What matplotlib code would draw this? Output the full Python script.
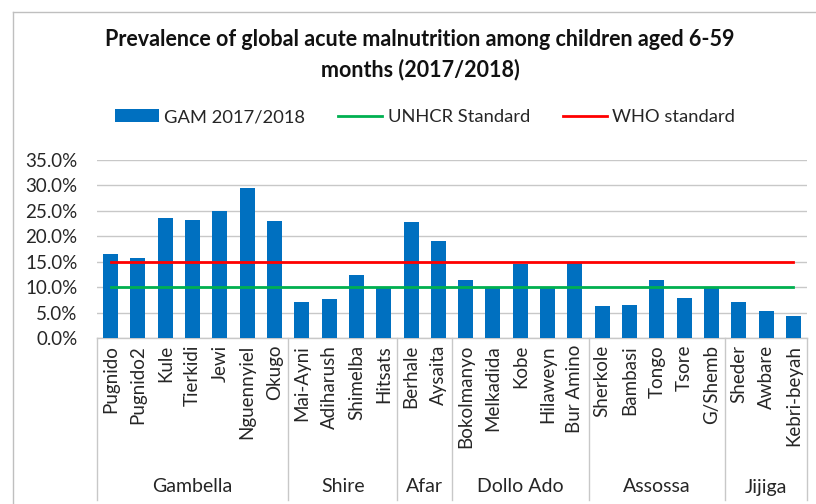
import matplotlib
matplotlib.use("Agg")
import matplotlib.pyplot as plt
from matplotlib.patches import Patch
from matplotlib.lines import Line2D
import numpy as np

plt.rcParams['font.family'] = ['Lato', 'DejaVu Sans']

camps = ["Pugnido", "Pugnido2", "Kule", "Tierkidi", "Jewi", "Nguennyiel", "Okugo",
         "Mai-Ayni", "Adiharush", "Shimelba", "Hitsats",
         "Berhale", "Aysaita",
         "Bokolmanyo", "Melkadida", "Kobe", "Hilaweyn", "Bur Amino",
         "Sherkole", "Bambasi", "Tongo", "Tsore", "G/Shemb",
         "Sheder", "Awbare", "Kebri-beyah"]
gam = [16.5, 15.8, 23.5, 23.2, 25.0, 29.4, 23.1,
       7.0, 7.6, 12.4, 10.1,
       22.9, 19.0,
       11.5, 10.0, 14.5, 10.0, 15.0,
       6.2, 6.4, 11.4, 7.8, 10.0,
       7.1, 5.3, 4.3]
regions = ["Gambella", "Shire", "Afar", "Dollo Ado", "Assossa", "Jijiga"]
region_sizes = [7, 4, 2, 5, 5, 3]
unhcr_standard = 10.0
who_standard = 15.0
yticks = [0, 5, 10, 15, 20, 25, 30, 35]

BLUE = "#0070C0"
GREEN = "#00B050"
RED = "#FF0000"
TXT = "#262626"
GRID = "#C8C8C8"

W, H = 816, 504
fig = plt.figure(figsize=(W / 100, H / 100), dpi=100)
ax = fig.add_axes([97 / W, 166 / H, 710 / W, 178 / H])

x = np.arange(len(camps))
ax.bar(x, gam, width=0.55, color=BLUE, zorder=3)
ax.plot([x[0], x[-1]], [unhcr_standard] * 2, color=GREEN, lw=2.0, zorder=4)
ax.plot([x[0], x[-1]], [who_standard] * 2, color=RED, lw=2.0, zorder=4)

ax.set_xlim(-0.5, len(camps) - 0.5)
ax.set_ylim(0, 35)
ax.set_yticks(yticks)
ax.set_yticklabels([f"{v:.1f}%" for v in yticks], fontsize=13.5, color=TXT)
ax.yaxis.grid(True, color=GRID, lw=1.0, zorder=0)
ax.set_axisbelow(True)
ax.tick_params(axis='y', length=0, pad=14)
ax.set_xticks(x)
ax.set_xticklabels(camps, rotation=90, fontsize=13.5, color=TXT, va='top', ha='center')
ax.tick_params(axis='x', length=0, pad=5)
for s in ['left', 'right', 'top']:
    ax.spines[s].set_visible(False)
ax.spines['bottom'].set_color(GRID)
ax.spines['bottom'].set_linewidth(1.0)

# group separators and labels
y_bot = (4 - 166) / 178
y_lab = (17 - 166) / 178
bounds = np.concatenate([[0], np.cumsum(region_sizes)]) - 0.5
for b in bounds:
    ax.plot([b, b], [0, y_bot], color=GRID, lw=1.0, clip_on=False,
            transform=ax.get_xaxis_transform())
for i, r in enumerate(regions):
    cx = (bounds[i] + bounds[i + 1]) / 2
    ax.text(cx, y_lab, r, ha='center', va='center', fontsize=14, color=TXT,
            transform=ax.get_xaxis_transform())

# title
fig.text(420 / W, 1 - 55 / H,
         "Prevalence of global acute malnutrition among children aged 6-59\nmonths (2017/2018)",
         ha='center', va='center', fontsize=15.5, fontweight='bold', color='#111111',
         linespacing=1.5)

# legend
handles = [Patch(facecolor=BLUE, edgecolor='none'),
           Line2D([], [], color=GREEN, lw=2.0),
           Line2D([], [], color=RED, lw=2.0)]
labels = ["GAM 2017/2018", "UNHCR Standard", "WHO standard"]
fig.legend(handles, labels, loc='center', bbox_to_anchor=(425 / W, 1 - 117 / H),
           ncol=3, frameon=False, fontsize=13.2, handlelength=2.4, handletextpad=0.3,
           columnspacing=1.8, labelcolor=TXT)

# outer frame (partially cropped)
fig.add_artist(Line2D([13 / W, 13 / W], [0, 1 - 12 / H], color='#BFBFBF', lw=1.0,
                      transform=fig.transFigure))
fig.add_artist(Line2D([13 / W, 1], [1 - 12 / H, 1 - 12 / H], color='#BFBFBF', lw=1.0,
                      transform=fig.transFigure))

fig.savefig("out.png", dpi=100)
